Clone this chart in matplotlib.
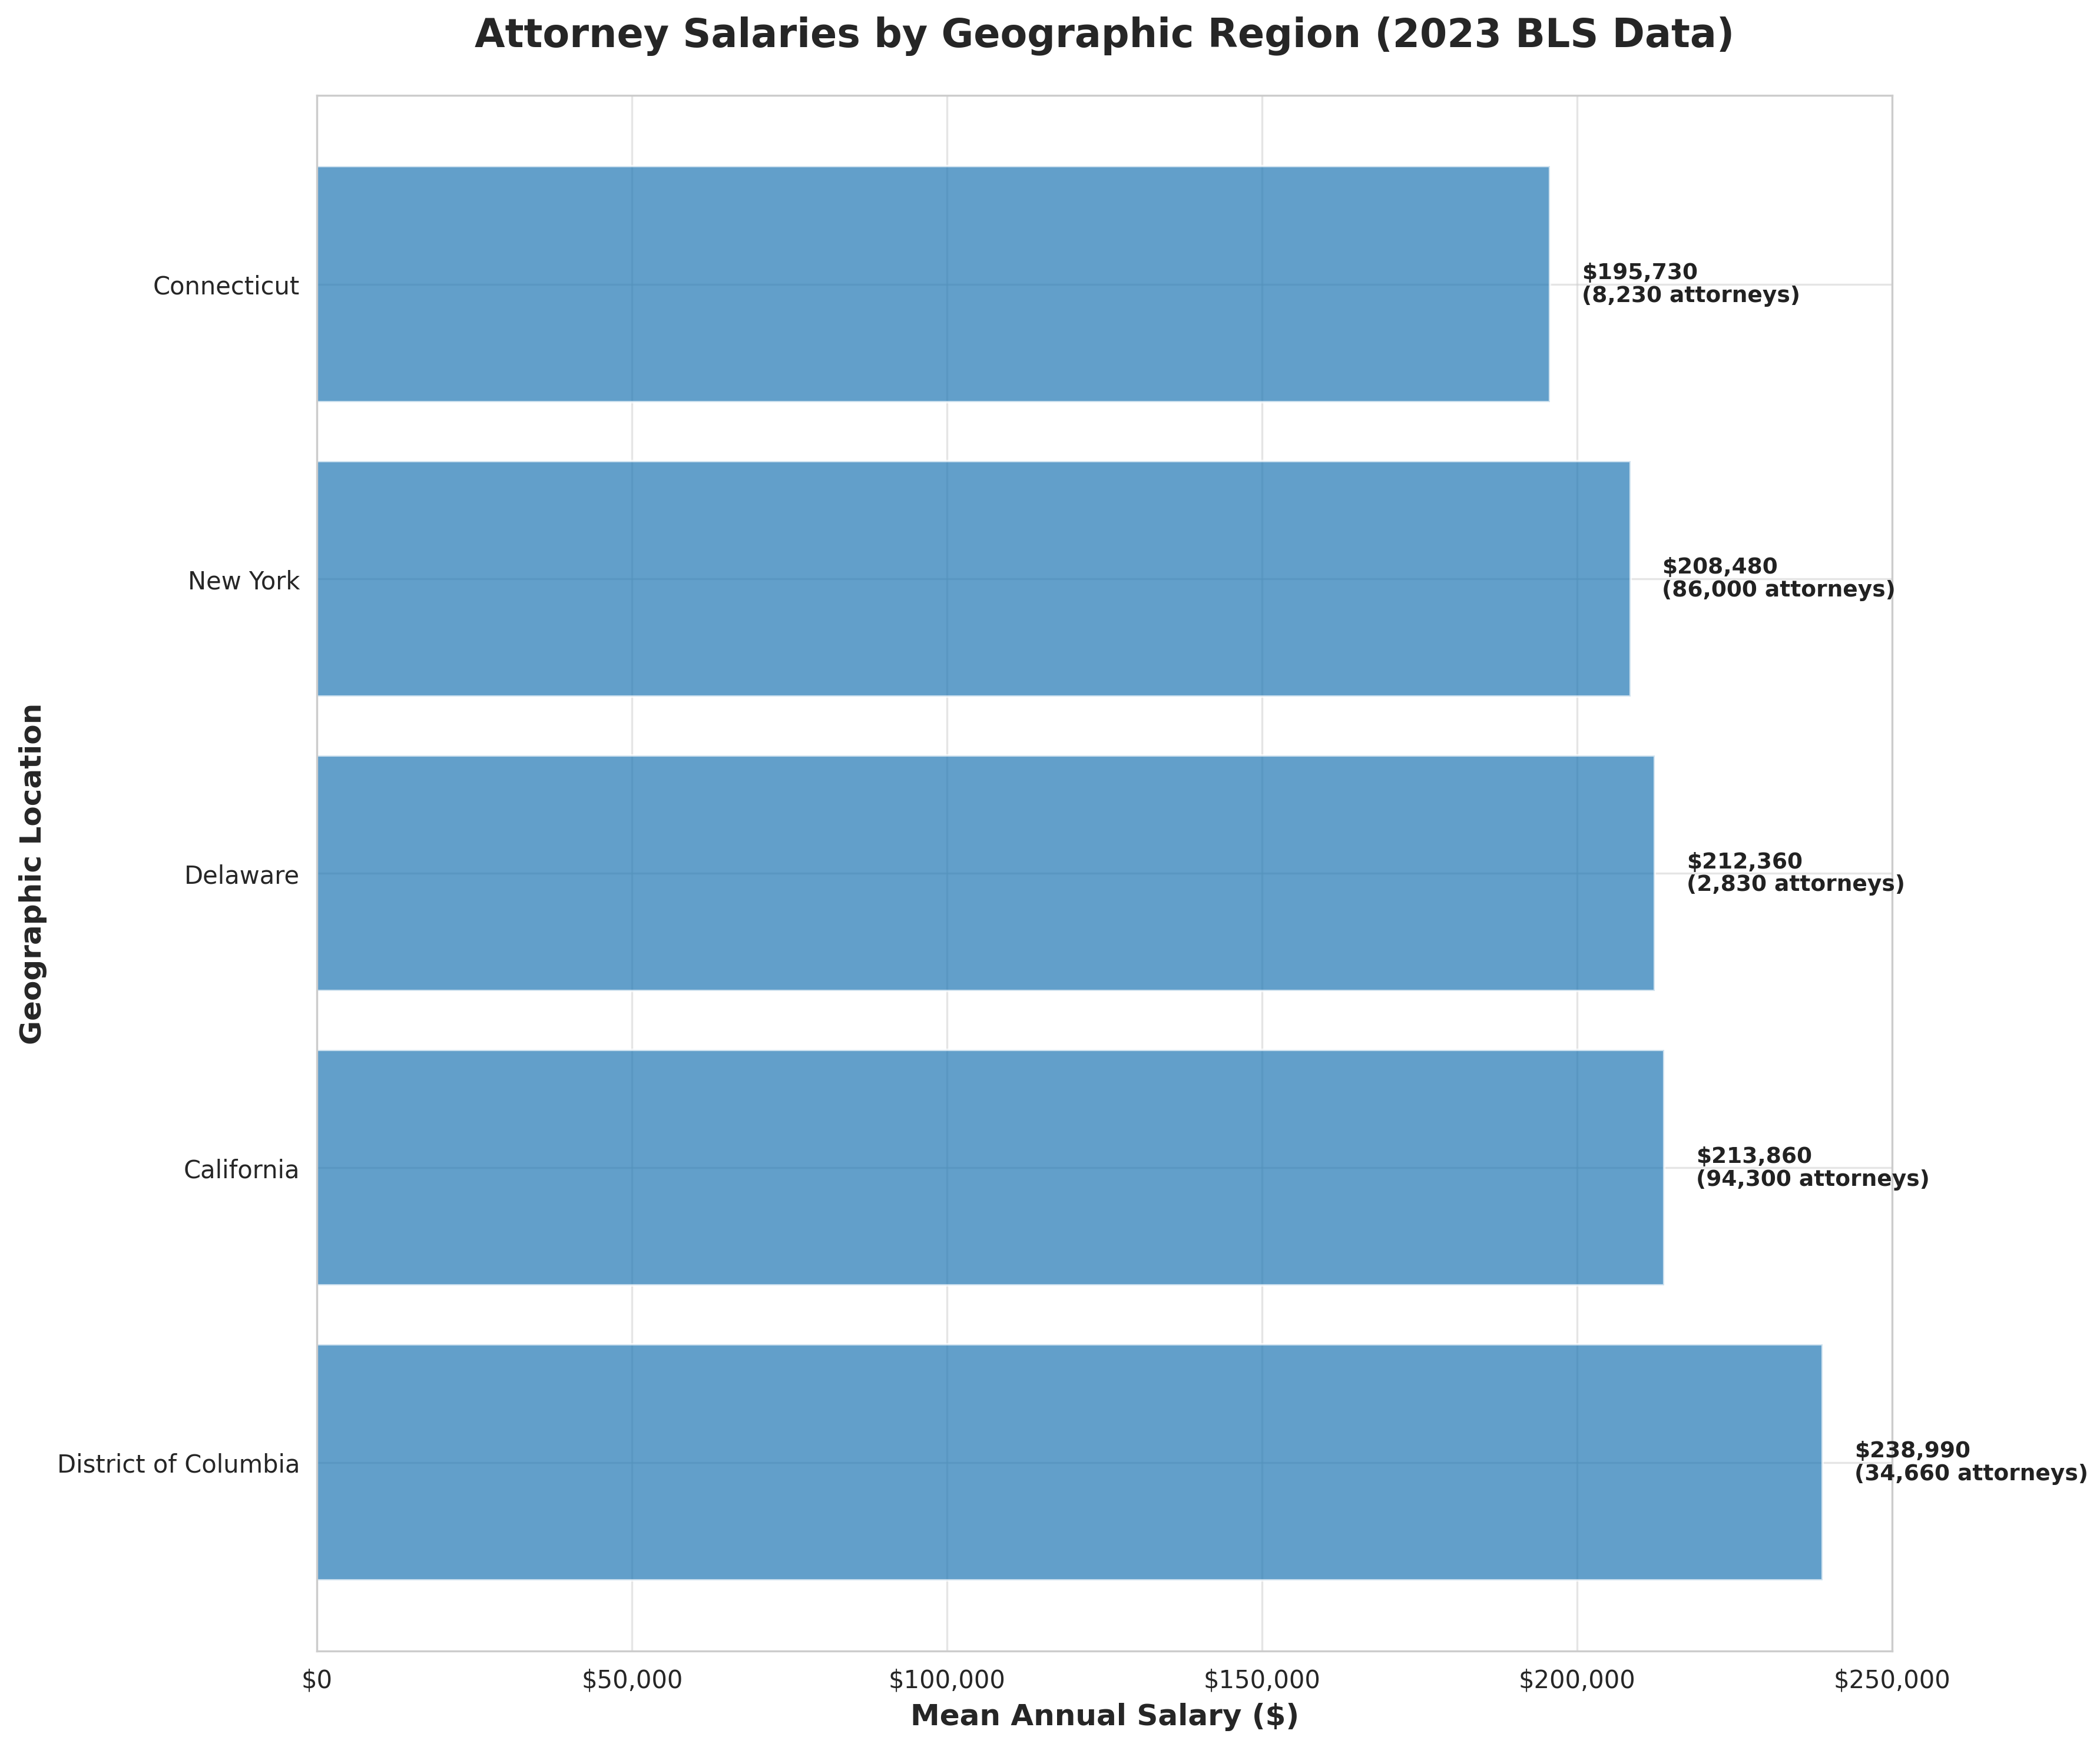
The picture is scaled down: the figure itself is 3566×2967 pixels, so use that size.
import matplotlib
matplotlib.use("Agg")
import matplotlib.pyplot as plt
import seaborn as sns

states = ["District of Columbia", "California", "Delaware", "New York", "Connecticut"]
salaries = [238990, 213860, 212360, 208480, 195730]
employment = [34660, 94300, 2830, 86000, 8230]
xticks = [0, 50000, 100000, 150000, 200000, 250000]

sns.set_style("whitegrid")
plt.rcParams['font.family'] = ['DejaVu Sans']

fig, ax = plt.subplots(figsize=(11.887, 9.893), dpi=300)
fig.subplots_adjust(left=0.151, right=0.901, top=0.945, bottom=0.055)
ax.barh(range(len(states)), salaries, height=0.8, color="#1f77b4", alpha=0.7)
ax.grid(True, color="#cccccc", alpha=0.5, linewidth=0.8)
for i, (s, e) in enumerate(zip(salaries, employment)):
    ax.text(s + 5000, i, f"${s:,}\n({e:,} attorneys)", va="center", ha="left",
            fontsize=9, fontweight="bold", color="#222222", linespacing=1.1)
ax.set_yticks(range(len(states)))
ax.set_yticklabels(states, fontsize=10)
ax.set_xlim(0, 250000)
ax.set_xticks(xticks)
ax.set_xticklabels([f"${v:,}" for v in xticks], fontsize=10)
ax.set_xlabel("Mean Annual Salary ($)", fontsize=12, fontweight="bold")
ax.set_ylabel("Geographic Location", fontsize=12, fontweight="bold")
ax.set_title("Attorney Salaries by Geographic Region (2023 BLS Data)", fontsize=16,
             fontweight="bold", pad=20)
for sp in ax.spines.values():
    sp.set_color("#cccccc")
fig.savefig("out.png", dpi=300)
